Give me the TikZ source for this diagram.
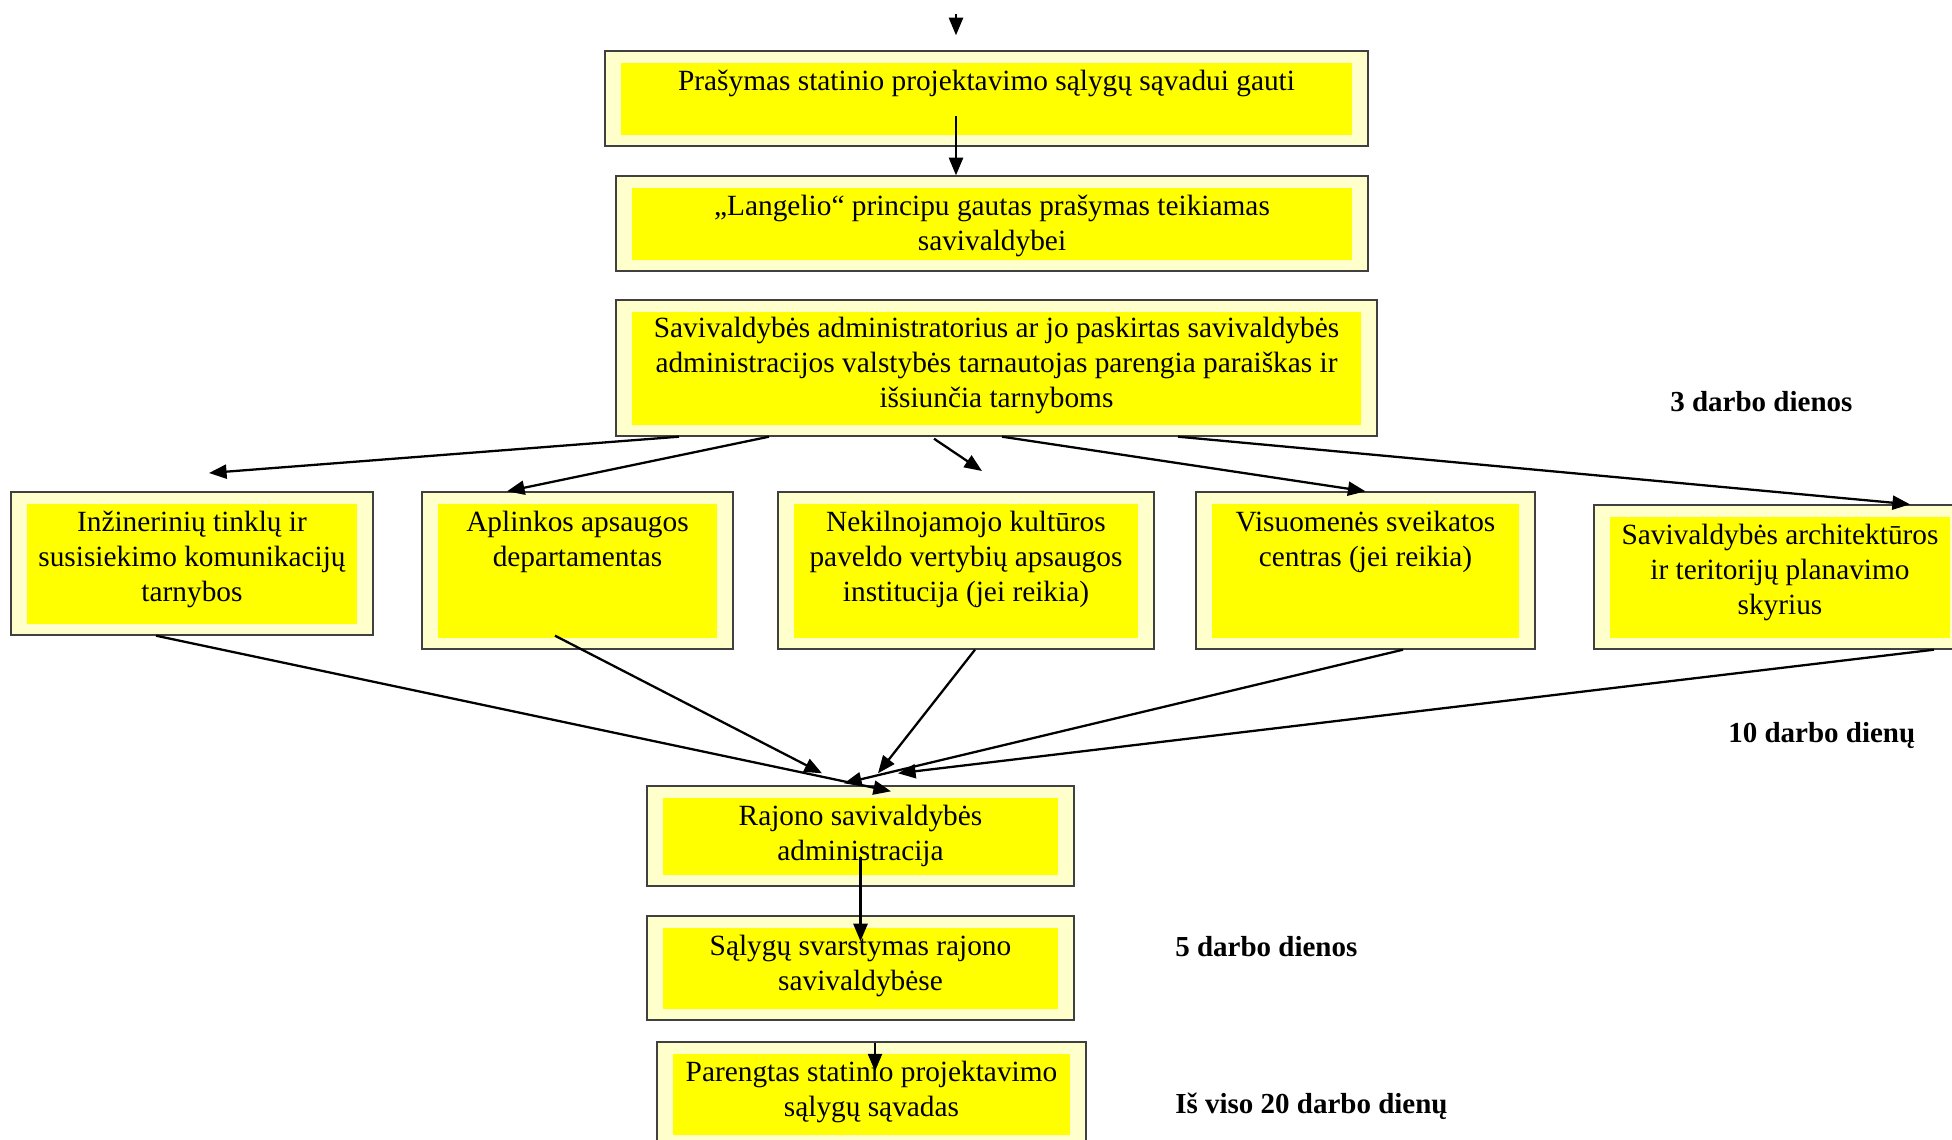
\documentclass[tikz,border=0pt]{standalone}
\usepackage{fontspec}
\setmainfont{Liberation Serif}
\usetikzlibrary{arrows.meta}
\definecolor{paleyellow}{HTML}{FFFFCC}
\definecolor{boxyellow}{RGB}{255,255,0}

\begin{document}
\begin{tikzpicture}[
  x=0.02cm, y=-0.02cm,
  blk/.style={draw=black!75, line width=0.8pt, fill=paleyellow, inner sep=0pt,
    path picture={\fill[boxyellow] ([shift={(16,12)}]path picture bounding box.north west)
      rectangle ([shift={(-16,-11)}]path picture bounding box.south east);}},
  txt/.style={anchor=north, inner sep=0pt, align=center, font=\fontsize{16.7}{20}\selectfont},
  days/.style={anchor=west, inner sep=0pt, font=\fontsize{16.5}{20}\selectfont\bfseries},
  arr/.style={-{Triangle[length=10pt,width=8pt]}, line width=1.3pt},
]
\useasboundingbox (0,0) rectangle (1952,1140);
\clip (0,0) rectangle (1952,1140);

\node[blk, minimum width=15.26cm, minimum height=1.9cm] (b1) at (986.5,98.5) {};
\node[blk, minimum width=15.04cm, minimum height=1.9cm] (b2) at (992,223.5) {};
\node[blk, minimum width=15.22cm, minimum height=2.72cm] (b3) at (996.5,368) {};

\node[blk, minimum width=7.24cm, minimum height=2.86cm] (b4) at (192,563.5) {};
\node[blk, minimum width=6.22cm, minimum height=3.14cm] (b5) at (577.5,570.5) {};
\node[blk, minimum width=7.52cm, minimum height=3.14cm] (b6) at (966,570.5) {};
\node[blk, minimum width=6.78cm, minimum height=3.14cm] (b7) at (1365.5,570.5) {};
\node[blk, minimum width=7.44cm, minimum height=2.88cm] (b8) at (1780,577) {};

\node[blk, minimum width=8.54cm, minimum height=2cm] (b9) at (860.5,836) {};
\node[blk, minimum width=8.54cm, minimum height=2.08cm] (b10) at (860.5,968) {};
\node[blk, minimum width=8.58cm, minimum height=2.08cm] (b11) at (871.5,1094) {};

\node[txt] (b1t) at ([shift={(0,19)}]b1.north) {Prašymas statinio projektavimo sąlygų sąvadui gauti};
\node[txt] (b2t) at ([shift={(0,19)}]b2.north) {„Langelio“ principu gautas prašymas teikiamas\\savivaldybei};
\node[txt] (b3t) at ([shift={(0,17)}]b3.north) {Savivaldybės administratorius ar jo paskirtas savivaldybės\\administracijos valstybės tarnautojas parengia paraiškas ir\\išsiunčia tarnyboms};
\node[txt] (b4t) at ([shift={(0,19)}]b4.north) {Inžinerinių tinklų ir\\susisiekimo komunikacijų\\tarnybos};
\node[txt] (b5t) at ([shift={(0,19)}]b5.north) {Aplinkos apsaugos\\departamentas};
\node[txt] (b6t) at ([shift={(0,19)}]b6.north) {Nekilnojamojo kultūros\\paveldo vertybių apsaugos\\institucija (jei reikia)};
\node[txt] (b7t) at ([shift={(0,19)}]b7.north) {Visuomenės sveikatos\\centras (jei reikia)};
\node[txt] (b8t) at ([shift={(0,19)}]b8.north) {Savivaldybės architektūros\\ir teritorijų planavimo\\skyrius};
\node[txt] (b9t) at ([shift={(0,19)}]b9.north) {Rajono savivaldybės\\administracija};
\node[txt] (b10t) at ([shift={(0,19)}]b10.north) {Sąlygų svarstymas rajono\\savivaldybėse};
\node[txt] (b11t) at ([shift={(0,19)}]b11.north) {Parengtas statinio projektavimo\\sąlygų sąvadas};

\node[days] (d3) at (1670,402) {3 darbo dienos};
\node[days] (d10) at (1728,735) {10 darbo dienų};
\node[days] (d5) at (1175,947) {5 darbo dienos};
\node[days] (d20) at (1175,1106) {Iš viso 20 darbo dienų};

\coordinate (start) at (956,14);
\coordinate (free1) at (209,473);
\coordinate (free2) at (982,471);

\draw[arr] (start) -- ([shift={(-30.5,-15)}]b1.north);
\draw[arr] ([shift={(-30.5,17.5)}]b1.center) -- ([shift={(-36,0)}]b2.north);

\draw[arr] ([shift={(-317.5,0)}]b3.south) -- (free1);
\draw[arr] ([shift={(-227.5,0)}]b3.south) -- ([shift={(-70.5,0)}]b5.north);
\draw[arr] ([shift={(-62.5,2)}]b3.south) -- (free2);
\draw[arr] ([shift={(5.5,0)}]b3.south) -- (b7.north);
\draw[arr] ([shift={(181.5,0)}]b3.south) -- ([shift={(130,0)}]b8.north);

\draw[arr] ([shift={(-36,0)}]b4.south) -- ([shift={(30.5,6)}]b9.north);
\draw[arr] ([shift={(-22.5,-14)}]b5.south) -- ([shift={(-38.5,-12)}]b9.north);
\draw[arr] ([shift={(9,0)}]b6.south) -- ([shift={(17.5,-12)}]b9.north);
\draw[arr] ([shift={(37.5,0)}]b7.south) -- ([shift={(-16.5,-2)}]b9.north);
\draw[arr] ([shift={(154,0)}]b8.south) -- ([shift={(37.5,-12)}]b9.north);

\draw[arr] ([shift={(0,21)}]b9.center) -- ([shift={(0,26)}]b10.north);
\draw[arr] ([shift={(14.5,22)}]b10.south) -- ([shift={(3.5,30)}]b11.north);

\end{tikzpicture}
\end{document}
